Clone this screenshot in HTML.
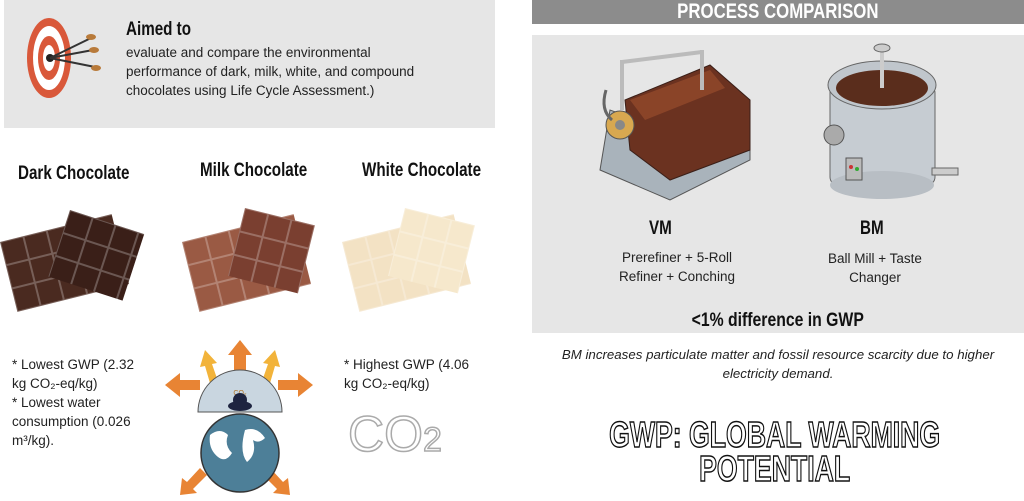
<!DOCTYPE html>
<html><head><meta charset="utf-8"><style>
body{margin:0;width:1024px;height:501px;background:#fff;position:relative;overflow:hidden;font-family:"Liberation Sans",sans-serif;color:#222}
.a{position:absolute}
.cond{font-family:"Liberation Sans Narrow","Liberation Sans",sans-serif;font-weight:bold;color:#111}
.s{display:inline-block;transform-origin:left top}
.c{display:inline-block;transform-origin:center top}
.t{font-size:13.5px;line-height:19px}
</style></head><body>
<div class="a" style="left:4px;top:0;width:491px;height:128px;background:#e6e6e6"></div>
<svg class="a" style="left:25px;top:15px" width="80" height="90" viewBox="0 0 80 90">
<ellipse cx="24" cy="43" rx="22" ry="40" fill="#d9583a"/><ellipse cx="24" cy="43" rx="16" ry="32" fill="#fff"/><ellipse cx="24" cy="43" rx="11" ry="22" fill="#d9583a"/><ellipse cx="24" cy="43" rx="6" ry="13" fill="#fff"/><circle cx="25" cy="43" r="4" fill="#222"/>
<g stroke="#333" stroke-width="2"><line x1="25" y1="43" x2="66" y2="23"/><line x1="25" y1="43" x2="68" y2="35"/><line x1="25" y1="43" x2="70" y2="52"/></g>
<g fill="#b87a3a"><ellipse cx="66" cy="22" rx="5" ry="3"/><ellipse cx="69" cy="35" rx="5" ry="3"/><ellipse cx="71" cy="53" rx="5" ry="3"/></g></svg>
<div class="a cond" style="left:126px;top:19px;font-size:19px"><span class="s" style="transform:scaleX(.8)">Aimed to</span></div>
<div class="a t" style="left:126px;top:43px;font-size:13.5px">evaluate and compare the environmental<br>performance of dark, milk, white, and compound<br>chocolates using Life Cycle Assessment.)</div>

<div class="a cond" style="left:18px;top:163px;font-size:19px"><span class="s" style="transform:scaleX(.8)">Dark Chocolate</span></div>
<div class="a cond" style="left:200px;top:160px;font-size:19px"><span class="s" style="transform:scaleX(.8)">Milk Chocolate</span></div>
<div class="a cond" style="left:362px;top:160px;font-size:19px"><span class="s" style="transform:scaleX(.8)">White Chocolate</span></div>

<svg class="a" style="left:0;top:200px" width="500" height="115">
<defs><pattern id="g" width="24" height="24" patternUnits="userSpaceOnUse"><rect width="24" height="24" fill="none" stroke="rgba(255,255,255,.25)" stroke-width="2"/></pattern></defs>
<g transform="translate(0,42) rotate(-14)"><rect width="115" height="72" fill="#4a2a20"/><rect width="115" height="72" fill="url(#g)"/></g>
<g transform="translate(70,10) rotate(18)"><rect width="78" height="70" fill="#3a1f18"/><rect width="78" height="70" fill="url(#g)"/></g>
<g transform="translate(182,42) rotate(-14)"><rect width="115" height="72" fill="#9a5a44"/><rect width="115" height="72" fill="url(#g)"/></g>
<g transform="translate(245,8) rotate(14)"><rect width="72" height="70" fill="#7a3f30"/><rect width="72" height="70" fill="url(#g)"/></g>
<g transform="translate(342,42) rotate(-14)"><rect width="115" height="72" fill="#f3e2c4"/><rect width="115" height="72" fill="url(#g)"/></g>
<g transform="translate(405,8) rotate(14)"><rect width="72" height="70" fill="#f6e8cc"/><rect width="72" height="70" fill="url(#g)"/></g>
</svg>

<div class="a t" style="left:12px;top:355px;font-size:13.5px">* Lowest GWP (2.32<br>kg CO₂-eq/kg)<br>* Lowest water<br>consumption (0.026<br>m³/kg).</div>
<div class="a t" style="left:344px;top:355px;font-size:13.5px">* Highest GWP (4.06<br>kg CO₂-eq/kg)</div>
<div class="a" style="left:348px;top:405px;font-size:50px;color:#fff;-webkit-text-stroke:1.5px #aaa;font-family:'Liberation Sans',sans-serif">CO<span style="font-size:34px">2</span></div>

<svg class="a" style="left:160px;top:335px" width="160" height="166" viewBox="0 0 160 166">
<g fill="#e88434"><polygon points="80,5 68,20 74,20 74,40 86,40 86,20 92,20"/><polygon points="5,50 20,38 20,45 40,45 40,55 20,55 20,62"/><polygon points="153,50 138,38 138,45 118,45 118,55 138,55 138,62"/><polygon points="20,160 22,143 27,147 40,133 47,140 33,154 37,158"/><polygon points="130,160 128,143 123,147 110,133 103,140 117,154 113,158"/></g>
<g fill="#f2b33a"><polygon points="45,15 40,32 45,31 52,55 60,52 52,29 57,28"/><polygon points="115,15 120,32 115,31 108,55 100,52 108,29 103,28"/></g>
<path d="M38,77 A42,42 0 0 1 122,77 Z" fill="#c9d6e0" stroke="#555"/>
<text x="80" y="60" font-size="7" fill="#b07020" text-anchor="middle" font-family="Liberation Sans">CO₂</text>
<ellipse cx="80" cy="71" rx="12" ry="5" fill="#1e2440"/><circle cx="80" cy="65" r="7" fill="#1e2440"/>
<circle cx="80" cy="118" r="39" fill="#4d7f98" stroke="#333" stroke-width="1.5"/>
<path d="M50,100 q10,-8 18,0 q-4,10 4,18 q-6,10 -14,4 q-10,-8 -8,-22Z M85,95 q12,-4 20,8 q-6,6 -12,2 q4,14 -6,22 q-8,-10 -2,-32Z" fill="#fff"/>
</svg>

<div class="a cond" style="left:532px;top:0;width:492px;height:24px;background:#8c8c8c;color:#fff;font-size:21px;line-height:24px;text-align:center"><span class="c" style="transform:scaleX(.8)">PROCESS COMPARISON</span></div>
<div class="a" style="left:532px;top:35px;width:492px;height:298px;background:#e6e6e6"></div>
<svg class="a" style="left:590px;top:40px" width="190" height="165">
<polygon points="10,130 80,160 160,120 160,80 90,95 20,70" fill="#a9b3bb" stroke="#555"/>
<polygon points="35,60 120,25 160,60 160,110 80,140 40,110" fill="#6b3220" stroke="#3a1f18"/>
<polygon points="40,60 120,30 135,48 55,80" fill="#8a4428"/>
<rect x="30" y="20" width="4" height="50" fill="#bbb"/><rect x="110" y="10" width="4" height="40" fill="#bbb"/>
<line x1="32" y1="22" x2="112" y2="12" stroke="#bbb" stroke-width="4"/>
<circle cx="30" cy="85" r="14" fill="#d8a850" stroke="#555"/><circle cx="30" cy="85" r="5" fill="#888"/>
<path d="M22,80 q-12,-10 -6,-30" stroke="#666" stroke-width="3" fill="none"/>
</svg>
<svg class="a" style="left:820px;top:40px" width="140" height="165">
<rect x="10" y="45" width="105" height="100" rx="8" fill="#c6ccd2" stroke="#666"/>
<ellipse cx="62" cy="145" rx="52" ry="14" fill="#b8bec4"/>
<ellipse cx="62" cy="45" rx="54" ry="24" fill="#c0c6cc" stroke="#666"/>
<ellipse cx="62" cy="48" rx="46" ry="18" fill="#5a2d1c"/>
<rect x="60" y="8" width="4" height="40" fill="#ccc"/><ellipse cx="62" cy="8" rx="8" ry="4" fill="#ccc" stroke="#666"/>
<circle cx="14" cy="95" r="10" fill="#aaa" stroke="#555"/>
<rect x="26" y="118" width="16" height="22" fill="#bbb" stroke="#555"/><circle cx="31" cy="127" r="2" fill="#c33"/><circle cx="37" cy="129" r="2" fill="#3a3"/>
<rect x="112" y="128" width="26" height="7" fill="#ccc" stroke="#666"/>
</svg>
<div class="a cond" style="left:649px;top:218px;font-size:19px"><span class="s" style="transform:scaleX(.8)">VM</span></div>
<div class="a t" style="left:582px;top:248px;width:190px;text-align:center;font-size:13.5px">Prerefiner + 5-Roll<br>Refiner + Conching</div>
<div class="a cond" style="left:860px;top:218px;font-size:19px"><span class="s" style="transform:scaleX(.8)">BM</span></div>
<div class="a t" style="left:790px;top:249px;width:170px;text-align:center;font-size:13.5px">Ball Mill + Taste<br>Changer</div>
<div class="a cond" style="left:532px;top:310px;width:492px;text-align:center;font-size:19px"><span class="c" style="transform:scaleX(.83)">&lt;1% difference in GWP</span></div>
<div class="a" style="left:532px;top:345px;width:492px;text-align:center;font-size:13.3px;line-height:19px;font-style:italic">BM increases particulate matter and fossil resource scarcity due to higher<br>electricity demand.</div>
<div class="a cond" style="left:529px;top:418px;width:492px;text-align:center;font-size:36px;line-height:34px;color:#fff;-webkit-text-stroke:1.5px #111"><span class="c" style="transform:scaleX(.74)">GWP: GLOBAL WARMING<br>POTENTIAL</span></div>
</body></html>
